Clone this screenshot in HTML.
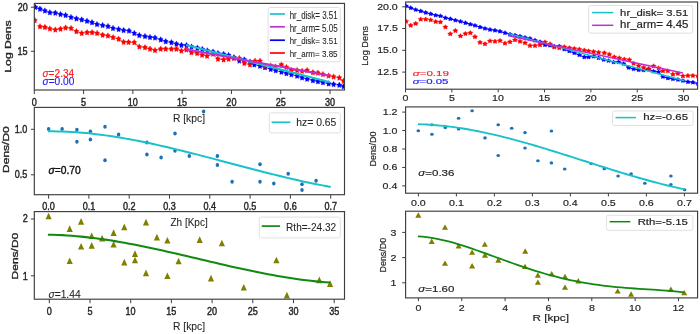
<!DOCTYPE html>
<html><head><meta charset="utf-8"><style>
html,body{margin:0;padding:0;background:#fff;width:700px;height:334px;overflow:hidden}
svg{display:block;will-change:transform}
text{font-family:"Liberation Sans",sans-serif}
</style></head><body>
<svg width="700" height="334" viewBox="0 0 700 334">
<rect width="700" height="334" fill="#fff"/>
<g>
<defs><clipPath id="cL1"><rect x="34.3" y="3" width="310.2" height="86.6"/></clipPath><clipPath id="cR1"><rect x="405.6" y="2" width="292" height="87.2"/></clipPath></defs>
<g clip-path="url(#cL1)">
<polyline points="35.40,7.30 40.00,9.00 44.90,10.80 49.90,12.60 55.30,13.00 60.50,14.40 65.60,15.30 71.00,17.30 76.40,18.70 81.70,19.70 87.00,21.10 92.00,22.50 97.00,24.40 102.60,25.40 108.00,26.40 113.00,28.30 118.60,29.30 123.60,30.40 129.00,30.90 134.30,33.30 139.30,35.40 145.00,36.40 150.00,37.30 155.00,37.80 160.70,39.70 165.70,41.50 171.40,42.50 176.40,44.00 181.40,45.20 186.50,45.40 191.50,46.80 197.30,48.00 202.30,49.30 207.30,50.70 213.00,51.90 218.00,53.40 223.60,54.20 228.60,55.40 234.00,57.50 239.30,60.90 244.30,59.70 250.00,61.90 254.30,64.70 260.00,66.10 265.00,67.50 270.70,69.20 275.70,70.60 281.40,72.00 286.40,73.50 291.40,74.60 297.10,76.00 302.10,77.70 307.10,79.10 312.90,80.50 317.90,81.50 322.90,82.50 328.60,83.70 333.60,84.40 339.30,85.10 343.60,86.50" fill="none" stroke="#0000ff" stroke-width="0.7" stroke-linejoin="round" stroke-linecap="butt"/>
<polyline points="40.00,26.60 44.90,27.20 49.90,28.80 55.30,29.80 60.50,29.00 65.60,27.80 71.10,28.30 76.40,31.50 81.70,33.30 87.10,32.50 92.10,32.50 97.10,33.30 102.60,35.00 107.90,35.80 113.10,37.50 118.60,39.00 123.60,42.10 128.60,42.20 134.30,42.50 139.30,46.80 145.00,47.50 150.00,49.00 155.00,50.40 160.70,49.00 165.70,49.00 171.40,49.00 176.40,49.00 181.40,50.90 186.40,49.70 191.40,52.50 197.10,53.30 202.10,55.00 207.10,56.10 212.90,54.00 217.90,59.00 223.60,59.70 228.60,59.00 234.00,58.30 239.30,58.30 244.30,63.30 250.00,64.70 255.00,61.10 260.00,61.10 265.00,66.10 270.70,65.80 275.70,66.80 281.40,64.70 286.40,67.30 291.40,70.40 297.10,70.40 302.10,71.10 307.10,70.40 312.90,72.50 317.90,73.00 322.90,74.40 328.60,75.80 333.60,76.80 339.30,77.80 343.60,81.10" fill="none" stroke="#ff0000" stroke-width="0.7" stroke-linejoin="round" stroke-linecap="butt"/>
<path d="M35.40,4.25 L36.24,5.92 L37.84,6.36 L36.76,7.83 L36.91,9.77 L35.40,9.01 L33.89,9.77 L34.04,7.83 L32.96,6.36 L34.56,5.92ZM40.00,5.95 L40.84,7.62 L42.44,8.06 L41.36,9.53 L41.51,11.47 L40.00,10.71 L38.49,11.47 L38.64,9.53 L37.56,8.06 L39.16,7.62ZM44.90,7.75 L45.74,9.42 L47.34,9.86 L46.26,11.33 L46.41,13.27 L44.90,12.51 L43.39,13.27 L43.54,11.33 L42.46,9.86 L44.06,9.42ZM49.90,9.55 L50.74,11.22 L52.34,11.66 L51.26,13.13 L51.41,15.07 L49.90,14.31 L48.39,15.07 L48.54,13.13 L47.46,11.66 L49.06,11.22ZM55.30,9.95 L56.14,11.62 L57.74,12.06 L56.66,13.53 L56.81,15.47 L55.30,14.71 L53.79,15.47 L53.94,13.53 L52.86,12.06 L54.46,11.62ZM60.50,11.35 L61.34,13.02 L62.94,13.46 L61.86,14.93 L62.01,16.87 L60.50,16.11 L58.99,16.87 L59.14,14.93 L58.06,13.46 L59.66,13.02ZM65.60,12.25 L66.44,13.92 L68.04,14.36 L66.96,15.83 L67.11,17.77 L65.60,17.01 L64.09,17.77 L64.24,15.83 L63.16,14.36 L64.76,13.92ZM71.00,14.25 L71.84,15.92 L73.44,16.36 L72.36,17.83 L72.51,19.77 L71.00,19.01 L69.49,19.77 L69.64,17.83 L68.56,16.36 L70.16,15.92ZM76.40,15.65 L77.24,17.32 L78.84,17.76 L77.76,19.23 L77.91,21.17 L76.40,20.41 L74.89,21.17 L75.04,19.23 L73.96,17.76 L75.56,17.32ZM81.70,16.65 L82.54,18.32 L84.14,18.76 L83.06,20.23 L83.21,22.17 L81.70,21.41 L80.19,22.17 L80.34,20.23 L79.26,18.76 L80.86,18.32ZM87.00,18.05 L87.84,19.72 L89.44,20.16 L88.36,21.63 L88.51,23.57 L87.00,22.81 L85.49,23.57 L85.64,21.63 L84.56,20.16 L86.16,19.72ZM92.00,19.45 L92.84,21.12 L94.44,21.56 L93.36,23.03 L93.51,24.97 L92.00,24.21 L90.49,24.97 L90.64,23.03 L89.56,21.56 L91.16,21.12ZM97.00,21.35 L97.84,23.02 L99.44,23.46 L98.36,24.93 L98.51,26.87 L97.00,26.11 L95.49,26.87 L95.64,24.93 L94.56,23.46 L96.16,23.02ZM102.60,22.35 L103.44,24.02 L105.04,24.46 L103.96,25.93 L104.11,27.87 L102.60,27.11 L101.09,27.87 L101.24,25.93 L100.16,24.46 L101.76,24.02ZM108.00,23.35 L108.84,25.02 L110.44,25.46 L109.36,26.93 L109.51,28.87 L108.00,28.11 L106.49,28.87 L106.64,26.93 L105.56,25.46 L107.16,25.02ZM113.00,25.25 L113.84,26.92 L115.44,27.36 L114.36,28.83 L114.51,30.77 L113.00,30.01 L111.49,30.77 L111.64,28.83 L110.56,27.36 L112.16,26.92ZM118.60,26.25 L119.44,27.92 L121.04,28.36 L119.96,29.83 L120.11,31.77 L118.60,31.01 L117.09,31.77 L117.24,29.83 L116.16,28.36 L117.76,27.92ZM123.60,27.35 L124.44,29.02 L126.04,29.46 L124.96,30.93 L125.11,32.87 L123.60,32.11 L122.09,32.87 L122.24,30.93 L121.16,29.46 L122.76,29.02ZM129.00,27.85 L129.84,29.52 L131.44,29.96 L130.36,31.43 L130.51,33.37 L129.00,32.61 L127.49,33.37 L127.64,31.43 L126.56,29.96 L128.16,29.52ZM134.30,30.25 L135.14,31.92 L136.74,32.36 L135.66,33.83 L135.81,35.77 L134.30,35.01 L132.79,35.77 L132.94,33.83 L131.86,32.36 L133.46,31.92ZM139.30,32.35 L140.14,34.02 L141.74,34.46 L140.66,35.93 L140.81,37.87 L139.30,37.11 L137.79,37.87 L137.94,35.93 L136.86,34.46 L138.46,34.02ZM145.00,33.35 L145.84,35.02 L147.44,35.46 L146.36,36.93 L146.51,38.87 L145.00,38.11 L143.49,38.87 L143.64,36.93 L142.56,35.46 L144.16,35.02ZM150.00,34.25 L150.84,35.92 L152.44,36.36 L151.36,37.83 L151.51,39.77 L150.00,39.01 L148.49,39.77 L148.64,37.83 L147.56,36.36 L149.16,35.92ZM155.00,34.75 L155.84,36.42 L157.44,36.86 L156.36,38.33 L156.51,40.27 L155.00,39.51 L153.49,40.27 L153.64,38.33 L152.56,36.86 L154.16,36.42ZM160.70,36.65 L161.54,38.32 L163.14,38.76 L162.06,40.23 L162.21,42.17 L160.70,41.41 L159.19,42.17 L159.34,40.23 L158.26,38.76 L159.86,38.32ZM165.70,38.45 L166.54,40.12 L168.14,40.56 L167.06,42.03 L167.21,43.97 L165.70,43.21 L164.19,43.97 L164.34,42.03 L163.26,40.56 L164.86,40.12ZM171.40,39.45 L172.24,41.12 L173.84,41.56 L172.76,43.03 L172.91,44.97 L171.40,44.21 L169.89,44.97 L170.04,43.03 L168.96,41.56 L170.56,41.12ZM176.40,40.95 L177.24,42.62 L178.84,43.06 L177.76,44.53 L177.91,46.47 L176.40,45.71 L174.89,46.47 L175.04,44.53 L173.96,43.06 L175.56,42.62ZM181.40,42.15 L182.24,43.82 L183.84,44.26 L182.76,45.73 L182.91,47.67 L181.40,46.91 L179.89,47.67 L180.04,45.73 L178.96,44.26 L180.56,43.82ZM186.50,42.35 L187.34,44.02 L188.94,44.46 L187.86,45.93 L188.01,47.87 L186.50,47.11 L184.99,47.87 L185.14,45.93 L184.06,44.46 L185.66,44.02ZM191.50,43.75 L192.34,45.42 L193.94,45.86 L192.86,47.33 L193.01,49.27 L191.50,48.51 L189.99,49.27 L190.14,47.33 L189.06,45.86 L190.66,45.42ZM197.30,44.95 L198.14,46.62 L199.74,47.06 L198.66,48.53 L198.81,50.47 L197.30,49.71 L195.79,50.47 L195.94,48.53 L194.86,47.06 L196.46,46.62ZM202.30,46.25 L203.14,47.92 L204.74,48.36 L203.66,49.83 L203.81,51.77 L202.30,51.01 L200.79,51.77 L200.94,49.83 L199.86,48.36 L201.46,47.92ZM207.30,47.65 L208.14,49.32 L209.74,49.76 L208.66,51.23 L208.81,53.17 L207.30,52.41 L205.79,53.17 L205.94,51.23 L204.86,49.76 L206.46,49.32ZM213.00,48.85 L213.84,50.52 L215.44,50.96 L214.36,52.43 L214.51,54.37 L213.00,53.61 L211.49,54.37 L211.64,52.43 L210.56,50.96 L212.16,50.52ZM218.00,50.35 L218.84,52.02 L220.44,52.46 L219.36,53.93 L219.51,55.87 L218.00,55.11 L216.49,55.87 L216.64,53.93 L215.56,52.46 L217.16,52.02ZM223.60,51.15 L224.44,52.82 L226.04,53.26 L224.96,54.73 L225.11,56.67 L223.60,55.91 L222.09,56.67 L222.24,54.73 L221.16,53.26 L222.76,52.82ZM228.60,52.35 L229.44,54.02 L231.04,54.46 L229.96,55.93 L230.11,57.87 L228.60,57.11 L227.09,57.87 L227.24,55.93 L226.16,54.46 L227.76,54.02ZM234.00,54.45 L234.84,56.12 L236.44,56.56 L235.36,58.03 L235.51,59.97 L234.00,59.21 L232.49,59.97 L232.64,58.03 L231.56,56.56 L233.16,56.12ZM239.30,57.85 L240.14,59.52 L241.74,59.96 L240.66,61.43 L240.81,63.37 L239.30,62.61 L237.79,63.37 L237.94,61.43 L236.86,59.96 L238.46,59.52ZM244.30,56.65 L245.14,58.32 L246.74,58.76 L245.66,60.23 L245.81,62.17 L244.30,61.41 L242.79,62.17 L242.94,60.23 L241.86,58.76 L243.46,58.32ZM250.00,58.85 L250.84,60.52 L252.44,60.96 L251.36,62.43 L251.51,64.37 L250.00,63.61 L248.49,64.37 L248.64,62.43 L247.56,60.96 L249.16,60.52ZM254.30,61.65 L255.14,63.32 L256.74,63.76 L255.66,65.23 L255.81,67.17 L254.30,66.41 L252.79,67.17 L252.94,65.23 L251.86,63.76 L253.46,63.32ZM260.00,63.05 L260.84,64.72 L262.44,65.16 L261.36,66.63 L261.51,68.57 L260.00,67.81 L258.49,68.57 L258.64,66.63 L257.56,65.16 L259.16,64.72ZM265.00,64.45 L265.84,66.12 L267.44,66.56 L266.36,68.03 L266.51,69.97 L265.00,69.21 L263.49,69.97 L263.64,68.03 L262.56,66.56 L264.16,66.12ZM270.70,66.15 L271.54,67.82 L273.14,68.26 L272.06,69.73 L272.21,71.67 L270.70,70.91 L269.19,71.67 L269.34,69.73 L268.26,68.26 L269.86,67.82ZM275.70,67.55 L276.54,69.22 L278.14,69.66 L277.06,71.13 L277.21,73.07 L275.70,72.31 L274.19,73.07 L274.34,71.13 L273.26,69.66 L274.86,69.22ZM281.40,68.95 L282.24,70.62 L283.84,71.06 L282.76,72.53 L282.91,74.47 L281.40,73.71 L279.89,74.47 L280.04,72.53 L278.96,71.06 L280.56,70.62ZM286.40,70.45 L287.24,72.12 L288.84,72.56 L287.76,74.03 L287.91,75.97 L286.40,75.21 L284.89,75.97 L285.04,74.03 L283.96,72.56 L285.56,72.12ZM291.40,71.55 L292.24,73.22 L293.84,73.66 L292.76,75.13 L292.91,77.07 L291.40,76.31 L289.89,77.07 L290.04,75.13 L288.96,73.66 L290.56,73.22ZM297.10,72.95 L297.94,74.62 L299.54,75.06 L298.46,76.53 L298.61,78.47 L297.10,77.71 L295.59,78.47 L295.74,76.53 L294.66,75.06 L296.26,74.62ZM302.10,74.65 L302.94,76.32 L304.54,76.76 L303.46,78.23 L303.61,80.17 L302.10,79.41 L300.59,80.17 L300.74,78.23 L299.66,76.76 L301.26,76.32ZM307.10,76.05 L307.94,77.72 L309.54,78.16 L308.46,79.63 L308.61,81.57 L307.10,80.81 L305.59,81.57 L305.74,79.63 L304.66,78.16 L306.26,77.72ZM312.90,77.45 L313.74,79.12 L315.34,79.56 L314.26,81.03 L314.41,82.97 L312.90,82.21 L311.39,82.97 L311.54,81.03 L310.46,79.56 L312.06,79.12ZM317.90,78.45 L318.74,80.12 L320.34,80.56 L319.26,82.03 L319.41,83.97 L317.90,83.21 L316.39,83.97 L316.54,82.03 L315.46,80.56 L317.06,80.12ZM322.90,79.45 L323.74,81.12 L325.34,81.56 L324.26,83.03 L324.41,84.97 L322.90,84.21 L321.39,84.97 L321.54,83.03 L320.46,81.56 L322.06,81.12ZM328.60,80.65 L329.44,82.32 L331.04,82.76 L329.96,84.23 L330.11,86.17 L328.60,85.41 L327.09,86.17 L327.24,84.23 L326.16,82.76 L327.76,82.32ZM333.60,81.35 L334.44,83.02 L336.04,83.46 L334.96,84.93 L335.11,86.87 L333.60,86.11 L332.09,86.87 L332.24,84.93 L331.16,83.46 L332.76,83.02ZM339.30,82.05 L340.14,83.72 L341.74,84.16 L340.66,85.63 L340.81,87.57 L339.30,86.81 L337.79,87.57 L337.94,85.63 L336.86,84.16 L338.46,83.72ZM343.60,83.45 L344.44,85.12 L346.04,85.56 L344.96,87.03 L345.11,88.97 L343.60,88.21 L342.09,88.97 L342.24,87.03 L341.16,85.56 L342.76,85.12Z" fill="#0000ff" stroke="#0000ff" stroke-width="0.4" stroke-linejoin="round"/>
<path d="M34.80,17.35 L35.64,19.02 L37.24,19.46 L36.16,20.93 L36.31,22.87 L34.80,22.11 L33.29,22.87 L33.44,20.93 L32.36,19.46 L33.96,19.02ZM40.00,23.55 L40.84,25.22 L42.44,25.66 L41.36,27.13 L41.51,29.07 L40.00,28.31 L38.49,29.07 L38.64,27.13 L37.56,25.66 L39.16,25.22ZM44.90,24.15 L45.74,25.82 L47.34,26.26 L46.26,27.73 L46.41,29.67 L44.90,28.91 L43.39,29.67 L43.54,27.73 L42.46,26.26 L44.06,25.82ZM49.90,25.75 L50.74,27.42 L52.34,27.86 L51.26,29.33 L51.41,31.27 L49.90,30.51 L48.39,31.27 L48.54,29.33 L47.46,27.86 L49.06,27.42ZM55.30,26.75 L56.14,28.42 L57.74,28.86 L56.66,30.33 L56.81,32.27 L55.30,31.51 L53.79,32.27 L53.94,30.33 L52.86,28.86 L54.46,28.42ZM60.50,25.95 L61.34,27.62 L62.94,28.06 L61.86,29.53 L62.01,31.47 L60.50,30.71 L58.99,31.47 L59.14,29.53 L58.06,28.06 L59.66,27.62ZM65.60,24.75 L66.44,26.42 L68.04,26.86 L66.96,28.33 L67.11,30.27 L65.60,29.51 L64.09,30.27 L64.24,28.33 L63.16,26.86 L64.76,26.42ZM71.10,25.25 L71.94,26.92 L73.54,27.36 L72.46,28.83 L72.61,30.77 L71.10,30.01 L69.59,30.77 L69.74,28.83 L68.66,27.36 L70.26,26.92ZM76.40,28.45 L77.24,30.12 L78.84,30.56 L77.76,32.03 L77.91,33.97 L76.40,33.21 L74.89,33.97 L75.04,32.03 L73.96,30.56 L75.56,30.12ZM81.70,30.25 L82.54,31.92 L84.14,32.36 L83.06,33.83 L83.21,35.77 L81.70,35.01 L80.19,35.77 L80.34,33.83 L79.26,32.36 L80.86,31.92ZM87.10,29.45 L87.94,31.12 L89.54,31.56 L88.46,33.03 L88.61,34.97 L87.10,34.21 L85.59,34.97 L85.74,33.03 L84.66,31.56 L86.26,31.12ZM92.10,29.45 L92.94,31.12 L94.54,31.56 L93.46,33.03 L93.61,34.97 L92.10,34.21 L90.59,34.97 L90.74,33.03 L89.66,31.56 L91.26,31.12ZM97.10,30.25 L97.94,31.92 L99.54,32.36 L98.46,33.83 L98.61,35.77 L97.10,35.01 L95.59,35.77 L95.74,33.83 L94.66,32.36 L96.26,31.92ZM102.60,31.95 L103.44,33.62 L105.04,34.06 L103.96,35.53 L104.11,37.47 L102.60,36.71 L101.09,37.47 L101.24,35.53 L100.16,34.06 L101.76,33.62ZM107.90,32.75 L108.74,34.42 L110.34,34.86 L109.26,36.33 L109.41,38.27 L107.90,37.51 L106.39,38.27 L106.54,36.33 L105.46,34.86 L107.06,34.42ZM113.10,34.45 L113.94,36.12 L115.54,36.56 L114.46,38.03 L114.61,39.97 L113.10,39.21 L111.59,39.97 L111.74,38.03 L110.66,36.56 L112.26,36.12ZM118.60,35.95 L119.44,37.62 L121.04,38.06 L119.96,39.53 L120.11,41.47 L118.60,40.71 L117.09,41.47 L117.24,39.53 L116.16,38.06 L117.76,37.62ZM123.60,39.05 L124.44,40.72 L126.04,41.16 L124.96,42.63 L125.11,44.57 L123.60,43.81 L122.09,44.57 L122.24,42.63 L121.16,41.16 L122.76,40.72ZM128.60,39.15 L129.44,40.82 L131.04,41.26 L129.96,42.73 L130.11,44.67 L128.60,43.91 L127.09,44.67 L127.24,42.73 L126.16,41.26 L127.76,40.82ZM134.30,39.45 L135.14,41.12 L136.74,41.56 L135.66,43.03 L135.81,44.97 L134.30,44.21 L132.79,44.97 L132.94,43.03 L131.86,41.56 L133.46,41.12ZM139.30,43.75 L140.14,45.42 L141.74,45.86 L140.66,47.33 L140.81,49.27 L139.30,48.51 L137.79,49.27 L137.94,47.33 L136.86,45.86 L138.46,45.42ZM145.00,44.45 L145.84,46.12 L147.44,46.56 L146.36,48.03 L146.51,49.97 L145.00,49.21 L143.49,49.97 L143.64,48.03 L142.56,46.56 L144.16,46.12ZM150.00,45.95 L150.84,47.62 L152.44,48.06 L151.36,49.53 L151.51,51.47 L150.00,50.71 L148.49,51.47 L148.64,49.53 L147.56,48.06 L149.16,47.62ZM155.00,47.35 L155.84,49.02 L157.44,49.46 L156.36,50.93 L156.51,52.87 L155.00,52.11 L153.49,52.87 L153.64,50.93 L152.56,49.46 L154.16,49.02ZM160.70,45.95 L161.54,47.62 L163.14,48.06 L162.06,49.53 L162.21,51.47 L160.70,50.71 L159.19,51.47 L159.34,49.53 L158.26,48.06 L159.86,47.62ZM165.70,45.95 L166.54,47.62 L168.14,48.06 L167.06,49.53 L167.21,51.47 L165.70,50.71 L164.19,51.47 L164.34,49.53 L163.26,48.06 L164.86,47.62ZM171.40,45.95 L172.24,47.62 L173.84,48.06 L172.76,49.53 L172.91,51.47 L171.40,50.71 L169.89,51.47 L170.04,49.53 L168.96,48.06 L170.56,47.62ZM176.40,45.95 L177.24,47.62 L178.84,48.06 L177.76,49.53 L177.91,51.47 L176.40,50.71 L174.89,51.47 L175.04,49.53 L173.96,48.06 L175.56,47.62ZM181.40,47.85 L182.24,49.52 L183.84,49.96 L182.76,51.43 L182.91,53.37 L181.40,52.61 L179.89,53.37 L180.04,51.43 L178.96,49.96 L180.56,49.52ZM186.40,46.65 L187.24,48.32 L188.84,48.76 L187.76,50.23 L187.91,52.17 L186.40,51.41 L184.89,52.17 L185.04,50.23 L183.96,48.76 L185.56,48.32ZM191.40,49.45 L192.24,51.12 L193.84,51.56 L192.76,53.03 L192.91,54.97 L191.40,54.21 L189.89,54.97 L190.04,53.03 L188.96,51.56 L190.56,51.12ZM197.10,50.25 L197.94,51.92 L199.54,52.36 L198.46,53.83 L198.61,55.77 L197.10,55.01 L195.59,55.77 L195.74,53.83 L194.66,52.36 L196.26,51.92ZM202.10,51.95 L202.94,53.62 L204.54,54.06 L203.46,55.53 L203.61,57.47 L202.10,56.71 L200.59,57.47 L200.74,55.53 L199.66,54.06 L201.26,53.62ZM207.10,53.05 L207.94,54.72 L209.54,55.16 L208.46,56.63 L208.61,58.57 L207.10,57.81 L205.59,58.57 L205.74,56.63 L204.66,55.16 L206.26,54.72ZM212.90,50.95 L213.74,52.62 L215.34,53.06 L214.26,54.53 L214.41,56.47 L212.90,55.71 L211.39,56.47 L211.54,54.53 L210.46,53.06 L212.06,52.62ZM217.90,55.95 L218.74,57.62 L220.34,58.06 L219.26,59.53 L219.41,61.47 L217.90,60.71 L216.39,61.47 L216.54,59.53 L215.46,58.06 L217.06,57.62ZM223.60,56.65 L224.44,58.32 L226.04,58.76 L224.96,60.23 L225.11,62.17 L223.60,61.41 L222.09,62.17 L222.24,60.23 L221.16,58.76 L222.76,58.32ZM228.60,55.95 L229.44,57.62 L231.04,58.06 L229.96,59.53 L230.11,61.47 L228.60,60.71 L227.09,61.47 L227.24,59.53 L226.16,58.06 L227.76,57.62ZM234.00,55.25 L234.84,56.92 L236.44,57.36 L235.36,58.83 L235.51,60.77 L234.00,60.01 L232.49,60.77 L232.64,58.83 L231.56,57.36 L233.16,56.92ZM239.30,55.25 L240.14,56.92 L241.74,57.36 L240.66,58.83 L240.81,60.77 L239.30,60.01 L237.79,60.77 L237.94,58.83 L236.86,57.36 L238.46,56.92ZM244.30,60.25 L245.14,61.92 L246.74,62.36 L245.66,63.83 L245.81,65.77 L244.30,65.01 L242.79,65.77 L242.94,63.83 L241.86,62.36 L243.46,61.92ZM250.00,61.65 L250.84,63.32 L252.44,63.76 L251.36,65.23 L251.51,67.17 L250.00,66.41 L248.49,67.17 L248.64,65.23 L247.56,63.76 L249.16,63.32ZM255.00,58.05 L255.84,59.72 L257.44,60.16 L256.36,61.63 L256.51,63.57 L255.00,62.81 L253.49,63.57 L253.64,61.63 L252.56,60.16 L254.16,59.72ZM260.00,58.05 L260.84,59.72 L262.44,60.16 L261.36,61.63 L261.51,63.57 L260.00,62.81 L258.49,63.57 L258.64,61.63 L257.56,60.16 L259.16,59.72ZM265.00,63.05 L265.84,64.72 L267.44,65.16 L266.36,66.63 L266.51,68.57 L265.00,67.81 L263.49,68.57 L263.64,66.63 L262.56,65.16 L264.16,64.72ZM270.70,62.75 L271.54,64.42 L273.14,64.86 L272.06,66.33 L272.21,68.27 L270.70,67.51 L269.19,68.27 L269.34,66.33 L268.26,64.86 L269.86,64.42ZM275.70,63.75 L276.54,65.42 L278.14,65.86 L277.06,67.33 L277.21,69.27 L275.70,68.51 L274.19,69.27 L274.34,67.33 L273.26,65.86 L274.86,65.42ZM281.40,61.65 L282.24,63.32 L283.84,63.76 L282.76,65.23 L282.91,67.17 L281.40,66.41 L279.89,67.17 L280.04,65.23 L278.96,63.76 L280.56,63.32ZM286.40,64.25 L287.24,65.92 L288.84,66.36 L287.76,67.83 L287.91,69.77 L286.40,69.01 L284.89,69.77 L285.04,67.83 L283.96,66.36 L285.56,65.92ZM291.40,67.35 L292.24,69.02 L293.84,69.46 L292.76,70.93 L292.91,72.87 L291.40,72.11 L289.89,72.87 L290.04,70.93 L288.96,69.46 L290.56,69.02ZM297.10,67.35 L297.94,69.02 L299.54,69.46 L298.46,70.93 L298.61,72.87 L297.10,72.11 L295.59,72.87 L295.74,70.93 L294.66,69.46 L296.26,69.02ZM302.10,68.05 L302.94,69.72 L304.54,70.16 L303.46,71.63 L303.61,73.57 L302.10,72.81 L300.59,73.57 L300.74,71.63 L299.66,70.16 L301.26,69.72ZM307.10,67.35 L307.94,69.02 L309.54,69.46 L308.46,70.93 L308.61,72.87 L307.10,72.11 L305.59,72.87 L305.74,70.93 L304.66,69.46 L306.26,69.02ZM312.90,69.45 L313.74,71.12 L315.34,71.56 L314.26,73.03 L314.41,74.97 L312.90,74.21 L311.39,74.97 L311.54,73.03 L310.46,71.56 L312.06,71.12ZM317.90,69.95 L318.74,71.62 L320.34,72.06 L319.26,73.53 L319.41,75.47 L317.90,74.71 L316.39,75.47 L316.54,73.53 L315.46,72.06 L317.06,71.62ZM322.90,71.35 L323.74,73.02 L325.34,73.46 L324.26,74.93 L324.41,76.87 L322.90,76.11 L321.39,76.87 L321.54,74.93 L320.46,73.46 L322.06,73.02ZM328.60,72.75 L329.44,74.42 L331.04,74.86 L329.96,76.33 L330.11,78.27 L328.60,77.51 L327.09,78.27 L327.24,76.33 L326.16,74.86 L327.76,74.42ZM333.60,73.75 L334.44,75.42 L336.04,75.86 L334.96,77.33 L335.11,79.27 L333.60,78.51 L332.09,79.27 L332.24,77.33 L331.16,75.86 L332.76,75.42ZM339.30,74.75 L340.14,76.42 L341.74,76.86 L340.66,78.33 L340.81,80.27 L339.30,79.51 L337.79,80.27 L337.94,78.33 L336.86,76.86 L338.46,76.42ZM343.60,78.05 L344.44,79.72 L346.04,80.16 L344.96,81.63 L345.11,83.57 L343.60,82.81 L342.09,83.57 L342.24,81.63 L341.16,80.16 L342.76,79.72Z" fill="#ff0000" stroke="#ff0000" stroke-width="0.4" stroke-linejoin="round"/>
<line x1="186.00" y1="45.00" x2="330.00" y2="82.30" stroke="#18c2c8" stroke-width="2.0"/>
<line x1="186.00" y1="49.30" x2="329.50" y2="75.70" stroke="#c030d0" stroke-width="2.0"/>
</g>
<g clip-path="url(#cR1)">
<polyline points="406.00,6.00 410.70,7.90 415.70,9.70 420.70,11.10 425.70,12.60 430.70,13.90 435.70,15.30 440.40,16.00 445.40,17.90 450.30,18.90 455.40,20.30 460.50,21.50 465.40,22.90 470.30,24.30 475.00,25.50 480.00,27.10 485.00,28.50 490.00,29.60 495.00,30.40 500.00,31.40 505.00,32.90 510.00,34.30 515.00,35.30 520.00,36.40 525.00,37.60 530.00,38.60 535.00,40.40 540.00,41.90 545.00,45.00 550.00,45.40 554.30,46.40 559.30,46.20 564.30,49.30 569.30,51.10 574.30,52.90 579.30,55.00 584.30,57.10 588.60,57.10 593.60,56.40 598.60,57.90 603.60,59.60 608.60,60.70 613.60,62.20 618.60,62.10 623.60,63.70 628.60,67.60 633.60,69.00 638.60,70.00 643.60,70.20 648.60,69.00 653.60,71.40 658.60,72.10 662.90,76.70 667.90,78.10 672.90,79.00 677.90,79.60 682.90,80.70 687.90,81.90 692.90,82.40 697.90,83.60" fill="none" stroke="#0000ff" stroke-width="1.0" stroke-linejoin="round" stroke-linecap="butt"/>
<path d="M406.00,3.70 L406.85,4.96 L408.45,5.29 L407.37,6.40 L407.51,7.86 L406.00,7.29 L404.49,7.86 L404.63,6.40 L403.55,5.29 L405.15,4.96ZM410.70,5.60 L411.55,6.86 L413.15,7.19 L412.07,8.30 L412.21,9.76 L410.70,9.19 L409.19,9.76 L409.33,8.30 L408.25,7.19 L409.85,6.86ZM415.70,7.40 L416.55,8.66 L418.15,8.99 L417.07,10.10 L417.21,11.56 L415.70,10.99 L414.19,11.56 L414.33,10.10 L413.25,8.99 L414.85,8.66ZM420.70,8.80 L421.55,10.06 L423.15,10.39 L422.07,11.50 L422.21,12.96 L420.70,12.39 L419.19,12.96 L419.33,11.50 L418.25,10.39 L419.85,10.06ZM425.70,10.30 L426.55,11.56 L428.15,11.89 L427.07,13.00 L427.21,14.46 L425.70,13.89 L424.19,14.46 L424.33,13.00 L423.25,11.89 L424.85,11.56ZM430.70,11.60 L431.55,12.86 L433.15,13.19 L432.07,14.30 L432.21,15.76 L430.70,15.19 L429.19,15.76 L429.33,14.30 L428.25,13.19 L429.85,12.86ZM435.70,13.00 L436.55,14.26 L438.15,14.59 L437.07,15.70 L437.21,17.16 L435.70,16.59 L434.19,17.16 L434.33,15.70 L433.25,14.59 L434.85,14.26ZM440.40,13.70 L441.25,14.96 L442.85,15.29 L441.77,16.40 L441.91,17.86 L440.40,17.29 L438.89,17.86 L439.03,16.40 L437.95,15.29 L439.55,14.96ZM445.40,15.60 L446.25,16.86 L447.85,17.19 L446.77,18.30 L446.91,19.76 L445.40,19.19 L443.89,19.76 L444.03,18.30 L442.95,17.19 L444.55,16.86ZM450.30,16.60 L451.15,17.86 L452.75,18.19 L451.67,19.30 L451.81,20.76 L450.30,20.19 L448.79,20.76 L448.93,19.30 L447.85,18.19 L449.45,17.86ZM455.40,18.00 L456.25,19.26 L457.85,19.59 L456.77,20.70 L456.91,22.16 L455.40,21.59 L453.89,22.16 L454.03,20.70 L452.95,19.59 L454.55,19.26ZM460.50,19.20 L461.35,20.46 L462.95,20.79 L461.87,21.90 L462.01,23.36 L460.50,22.79 L458.99,23.36 L459.13,21.90 L458.05,20.79 L459.65,20.46ZM465.40,20.60 L466.25,21.86 L467.85,22.19 L466.77,23.30 L466.91,24.76 L465.40,24.19 L463.89,24.76 L464.03,23.30 L462.95,22.19 L464.55,21.86ZM470.30,22.00 L471.15,23.26 L472.75,23.59 L471.67,24.70 L471.81,26.16 L470.30,25.59 L468.79,26.16 L468.93,24.70 L467.85,23.59 L469.45,23.26ZM475.00,23.20 L475.85,24.46 L477.45,24.79 L476.37,25.90 L476.51,27.36 L475.00,26.79 L473.49,27.36 L473.63,25.90 L472.55,24.79 L474.15,24.46ZM480.00,24.80 L480.85,26.06 L482.45,26.39 L481.37,27.50 L481.51,28.96 L480.00,28.39 L478.49,28.96 L478.63,27.50 L477.55,26.39 L479.15,26.06ZM485.00,26.20 L485.85,27.46 L487.45,27.79 L486.37,28.90 L486.51,30.36 L485.00,29.79 L483.49,30.36 L483.63,28.90 L482.55,27.79 L484.15,27.46ZM490.00,27.30 L490.85,28.56 L492.45,28.89 L491.37,30.00 L491.51,31.46 L490.00,30.89 L488.49,31.46 L488.63,30.00 L487.55,28.89 L489.15,28.56ZM495.00,28.10 L495.85,29.36 L497.45,29.69 L496.37,30.80 L496.51,32.26 L495.00,31.69 L493.49,32.26 L493.63,30.80 L492.55,29.69 L494.15,29.36ZM500.00,29.10 L500.85,30.36 L502.45,30.69 L501.37,31.80 L501.51,33.26 L500.00,32.69 L498.49,33.26 L498.63,31.80 L497.55,30.69 L499.15,30.36ZM505.00,30.60 L505.85,31.86 L507.45,32.19 L506.37,33.30 L506.51,34.76 L505.00,34.19 L503.49,34.76 L503.63,33.30 L502.55,32.19 L504.15,31.86ZM510.00,32.00 L510.85,33.26 L512.45,33.59 L511.37,34.70 L511.51,36.16 L510.00,35.59 L508.49,36.16 L508.63,34.70 L507.55,33.59 L509.15,33.26ZM515.00,33.00 L515.85,34.26 L517.45,34.59 L516.37,35.70 L516.51,37.16 L515.00,36.59 L513.49,37.16 L513.63,35.70 L512.55,34.59 L514.15,34.26ZM520.00,34.10 L520.85,35.36 L522.45,35.69 L521.37,36.80 L521.51,38.26 L520.00,37.69 L518.49,38.26 L518.63,36.80 L517.55,35.69 L519.15,35.36ZM525.00,35.30 L525.85,36.56 L527.45,36.89 L526.37,38.00 L526.51,39.46 L525.00,38.89 L523.49,39.46 L523.63,38.00 L522.55,36.89 L524.15,36.56ZM530.00,36.30 L530.85,37.56 L532.45,37.89 L531.37,39.00 L531.51,40.46 L530.00,39.89 L528.49,40.46 L528.63,39.00 L527.55,37.89 L529.15,37.56ZM535.00,38.10 L535.85,39.36 L537.45,39.69 L536.37,40.80 L536.51,42.26 L535.00,41.69 L533.49,42.26 L533.63,40.80 L532.55,39.69 L534.15,39.36ZM540.00,39.60 L540.85,40.86 L542.45,41.19 L541.37,42.30 L541.51,43.76 L540.00,43.19 L538.49,43.76 L538.63,42.30 L537.55,41.19 L539.15,40.86ZM545.00,42.70 L545.85,43.96 L547.45,44.29 L546.37,45.40 L546.51,46.86 L545.00,46.29 L543.49,46.86 L543.63,45.40 L542.55,44.29 L544.15,43.96ZM550.00,43.10 L550.85,44.36 L552.45,44.69 L551.37,45.80 L551.51,47.26 L550.00,46.69 L548.49,47.26 L548.63,45.80 L547.55,44.69 L549.15,44.36ZM554.30,44.10 L555.15,45.36 L556.75,45.69 L555.67,46.80 L555.81,48.26 L554.30,47.69 L552.79,48.26 L552.93,46.80 L551.85,45.69 L553.45,45.36ZM559.30,43.90 L560.15,45.16 L561.75,45.49 L560.67,46.60 L560.81,48.06 L559.30,47.49 L557.79,48.06 L557.93,46.60 L556.85,45.49 L558.45,45.16ZM564.30,47.00 L565.15,48.26 L566.75,48.59 L565.67,49.70 L565.81,51.16 L564.30,50.59 L562.79,51.16 L562.93,49.70 L561.85,48.59 L563.45,48.26ZM569.30,48.80 L570.15,50.06 L571.75,50.39 L570.67,51.50 L570.81,52.96 L569.30,52.39 L567.79,52.96 L567.93,51.50 L566.85,50.39 L568.45,50.06ZM574.30,50.60 L575.15,51.86 L576.75,52.19 L575.67,53.30 L575.81,54.76 L574.30,54.19 L572.79,54.76 L572.93,53.30 L571.85,52.19 L573.45,51.86ZM579.30,52.70 L580.15,53.96 L581.75,54.29 L580.67,55.40 L580.81,56.86 L579.30,56.29 L577.79,56.86 L577.93,55.40 L576.85,54.29 L578.45,53.96ZM584.30,54.80 L585.15,56.06 L586.75,56.39 L585.67,57.50 L585.81,58.96 L584.30,58.39 L582.79,58.96 L582.93,57.50 L581.85,56.39 L583.45,56.06ZM588.60,54.80 L589.45,56.06 L591.05,56.39 L589.97,57.50 L590.11,58.96 L588.60,58.39 L587.09,58.96 L587.23,57.50 L586.15,56.39 L587.75,56.06ZM593.60,54.10 L594.45,55.36 L596.05,55.69 L594.97,56.80 L595.11,58.26 L593.60,57.69 L592.09,58.26 L592.23,56.80 L591.15,55.69 L592.75,55.36ZM598.60,55.60 L599.45,56.86 L601.05,57.19 L599.97,58.30 L600.11,59.76 L598.60,59.19 L597.09,59.76 L597.23,58.30 L596.15,57.19 L597.75,56.86ZM603.60,57.30 L604.45,58.56 L606.05,58.89 L604.97,60.00 L605.11,61.46 L603.60,60.89 L602.09,61.46 L602.23,60.00 L601.15,58.89 L602.75,58.56ZM608.60,58.40 L609.45,59.66 L611.05,59.99 L609.97,61.10 L610.11,62.56 L608.60,61.99 L607.09,62.56 L607.23,61.10 L606.15,59.99 L607.75,59.66ZM613.60,59.90 L614.45,61.16 L616.05,61.49 L614.97,62.60 L615.11,64.06 L613.60,63.49 L612.09,64.06 L612.23,62.60 L611.15,61.49 L612.75,61.16ZM618.60,59.80 L619.45,61.06 L621.05,61.39 L619.97,62.50 L620.11,63.96 L618.60,63.39 L617.09,63.96 L617.23,62.50 L616.15,61.39 L617.75,61.06ZM623.60,61.40 L624.45,62.66 L626.05,62.99 L624.97,64.10 L625.11,65.56 L623.60,64.99 L622.09,65.56 L622.23,64.10 L621.15,62.99 L622.75,62.66ZM628.60,65.30 L629.45,66.56 L631.05,66.89 L629.97,68.00 L630.11,69.46 L628.60,68.89 L627.09,69.46 L627.23,68.00 L626.15,66.89 L627.75,66.56ZM633.60,66.70 L634.45,67.96 L636.05,68.29 L634.97,69.40 L635.11,70.86 L633.60,70.29 L632.09,70.86 L632.23,69.40 L631.15,68.29 L632.75,67.96ZM638.60,67.70 L639.45,68.96 L641.05,69.29 L639.97,70.40 L640.11,71.86 L638.60,71.29 L637.09,71.86 L637.23,70.40 L636.15,69.29 L637.75,68.96ZM643.60,67.90 L644.45,69.16 L646.05,69.49 L644.97,70.60 L645.11,72.06 L643.60,71.49 L642.09,72.06 L642.23,70.60 L641.15,69.49 L642.75,69.16ZM648.60,66.70 L649.45,67.96 L651.05,68.29 L649.97,69.40 L650.11,70.86 L648.60,70.29 L647.09,70.86 L647.23,69.40 L646.15,68.29 L647.75,67.96ZM653.60,69.10 L654.45,70.36 L656.05,70.69 L654.97,71.80 L655.11,73.26 L653.60,72.69 L652.09,73.26 L652.23,71.80 L651.15,70.69 L652.75,70.36ZM658.60,69.80 L659.45,71.06 L661.05,71.39 L659.97,72.50 L660.11,73.96 L658.60,73.39 L657.09,73.96 L657.23,72.50 L656.15,71.39 L657.75,71.06ZM662.90,74.40 L663.75,75.66 L665.35,75.99 L664.27,77.10 L664.41,78.56 L662.90,77.99 L661.39,78.56 L661.53,77.10 L660.45,75.99 L662.05,75.66ZM667.90,75.80 L668.75,77.06 L670.35,77.39 L669.27,78.50 L669.41,79.96 L667.90,79.39 L666.39,79.96 L666.53,78.50 L665.45,77.39 L667.05,77.06ZM672.90,76.70 L673.75,77.96 L675.35,78.29 L674.27,79.40 L674.41,80.86 L672.90,80.29 L671.39,80.86 L671.53,79.40 L670.45,78.29 L672.05,77.96ZM677.90,77.30 L678.75,78.56 L680.35,78.89 L679.27,80.00 L679.41,81.46 L677.90,80.89 L676.39,81.46 L676.53,80.00 L675.45,78.89 L677.05,78.56ZM682.90,78.40 L683.75,79.66 L685.35,79.99 L684.27,81.10 L684.41,82.56 L682.90,81.99 L681.39,82.56 L681.53,81.10 L680.45,79.99 L682.05,79.66ZM687.90,79.60 L688.75,80.86 L690.35,81.19 L689.27,82.30 L689.41,83.76 L687.90,83.19 L686.39,83.76 L686.53,82.30 L685.45,81.19 L687.05,80.86ZM692.90,80.10 L693.75,81.36 L695.35,81.69 L694.27,82.80 L694.41,84.26 L692.90,83.69 L691.39,84.26 L691.53,82.80 L690.45,81.69 L692.05,81.36ZM697.90,81.30 L698.75,82.56 L700.35,82.89 L699.27,84.00 L699.41,85.46 L697.90,84.89 L696.39,85.46 L696.53,84.00 L695.45,82.89 L697.05,82.56Z" fill="#0000ff" stroke="#0000ff" stroke-width="0.4" stroke-linejoin="round"/>
<path d="M406.00,18.95 L406.90,20.29 L408.61,20.64 L407.46,21.82 L407.61,23.38 L406.00,22.77 L404.39,23.38 L404.54,21.82 L403.39,20.64 L405.10,20.29ZM410.70,22.95 L411.60,24.29 L413.31,24.64 L412.16,25.82 L412.31,27.38 L410.70,26.77 L409.09,27.38 L409.24,25.82 L408.09,24.64 L409.80,24.29ZM415.70,21.15 L416.60,22.49 L418.31,22.84 L417.16,24.02 L417.31,25.58 L415.70,24.97 L414.09,25.58 L414.24,24.02 L413.09,22.84 L414.80,22.49ZM420.70,16.85 L421.60,18.19 L423.31,18.54 L422.16,19.72 L422.31,21.28 L420.70,20.67 L419.09,21.28 L419.24,19.72 L418.09,18.54 L419.80,18.19ZM425.70,16.85 L426.60,18.19 L428.31,18.54 L427.16,19.72 L427.31,21.28 L425.70,20.67 L424.09,21.28 L424.24,19.72 L423.09,18.54 L424.80,18.19ZM430.70,17.55 L431.60,18.89 L433.31,19.24 L432.16,20.42 L432.31,21.98 L430.70,21.37 L429.09,21.98 L429.24,20.42 L428.09,19.24 L429.80,18.89ZM435.70,19.25 L436.60,20.59 L438.31,20.94 L437.16,22.12 L437.31,23.68 L435.70,23.07 L434.09,23.68 L434.24,22.12 L433.09,20.94 L434.80,20.59ZM440.40,19.65 L441.30,20.99 L443.01,21.34 L441.86,22.52 L442.01,24.08 L440.40,23.47 L438.79,24.08 L438.94,22.52 L437.79,21.34 L439.50,20.99ZM445.40,24.65 L446.30,25.99 L448.01,26.34 L446.86,27.52 L447.01,29.08 L445.40,28.47 L443.79,29.08 L443.94,27.52 L442.79,26.34 L444.50,25.99ZM450.30,31.45 L451.20,32.79 L452.91,33.14 L451.76,34.32 L451.91,35.88 L450.30,35.27 L448.69,35.88 L448.84,34.32 L447.69,33.14 L449.40,32.79ZM455.40,28.25 L456.30,29.59 L458.01,29.94 L456.86,31.12 L457.01,32.68 L455.40,32.07 L453.79,32.68 L453.94,31.12 L452.79,29.94 L454.50,29.59ZM460.50,33.55 L461.40,34.89 L463.11,35.24 L461.96,36.42 L462.11,37.98 L460.50,37.37 L458.89,37.98 L459.04,36.42 L457.89,35.24 L459.60,34.89ZM465.40,31.25 L466.30,32.59 L468.01,32.94 L466.86,34.12 L467.01,35.68 L465.40,35.07 L463.79,35.68 L463.94,34.12 L462.79,32.94 L464.50,32.59ZM470.30,30.45 L471.20,31.79 L472.91,32.14 L471.76,33.32 L471.91,34.88 L470.30,34.27 L468.69,34.88 L468.84,33.32 L467.69,32.14 L469.40,31.79ZM475.00,34.35 L475.90,35.69 L477.61,36.04 L476.46,37.22 L476.61,38.78 L475.00,38.17 L473.39,38.78 L473.54,37.22 L472.39,36.04 L474.10,35.69ZM480.00,39.95 L480.90,41.29 L482.61,41.64 L481.46,42.82 L481.61,44.38 L480.00,43.77 L478.39,44.38 L478.54,42.82 L477.39,41.64 L479.10,41.29ZM485.00,41.45 L485.90,42.79 L487.61,43.14 L486.46,44.32 L486.61,45.88 L485.00,45.27 L483.39,45.88 L483.54,44.32 L482.39,43.14 L484.10,42.79ZM490.00,38.55 L490.90,39.89 L492.61,40.24 L491.46,41.42 L491.61,42.98 L490.00,42.37 L488.39,42.98 L488.54,41.42 L487.39,40.24 L489.10,39.89ZM495.00,38.95 L495.90,40.29 L497.61,40.64 L496.46,41.82 L496.61,43.38 L495.00,42.77 L493.39,43.38 L493.54,41.82 L492.39,40.64 L494.10,40.29ZM500.00,38.25 L500.90,39.59 L502.61,39.94 L501.46,41.12 L501.61,42.68 L500.00,42.07 L498.39,42.68 L498.54,41.12 L497.39,39.94 L499.10,39.59ZM505.00,40.85 L505.90,42.19 L507.61,42.54 L506.46,43.72 L506.61,45.28 L505.00,44.67 L503.39,45.28 L503.54,43.72 L502.39,42.54 L504.10,42.19ZM510.00,39.45 L510.90,40.79 L512.61,41.14 L511.46,42.32 L511.61,43.88 L510.00,43.27 L508.39,43.88 L508.54,42.32 L507.39,41.14 L509.10,40.79ZM515.00,37.55 L515.90,38.89 L517.61,39.24 L516.46,40.42 L516.61,41.98 L515.00,41.37 L513.39,41.98 L513.54,40.42 L512.39,39.24 L514.10,38.89ZM520.00,38.95 L520.90,40.29 L522.61,40.64 L521.46,41.82 L521.61,43.38 L520.00,42.77 L518.39,43.38 L518.54,41.82 L517.39,40.64 L519.10,40.29ZM525.00,40.45 L525.90,41.79 L527.61,42.14 L526.46,43.32 L526.61,44.88 L525.00,44.27 L523.39,44.88 L523.54,43.32 L522.39,42.14 L524.10,41.79ZM530.00,43.25 L530.90,44.59 L532.61,44.94 L531.46,46.12 L531.61,47.68 L530.00,47.07 L528.39,47.68 L528.54,46.12 L527.39,44.94 L529.10,44.59ZM535.00,43.25 L535.90,44.59 L537.61,44.94 L536.46,46.12 L536.61,47.68 L535.00,47.07 L533.39,47.68 L533.54,46.12 L532.39,44.94 L534.10,44.59ZM540.00,42.55 L540.90,43.89 L542.61,44.24 L541.46,45.42 L541.61,46.98 L540.00,46.37 L538.39,46.98 L538.54,45.42 L537.39,44.24 L539.10,43.89ZM545.00,39.65 L545.90,40.99 L547.61,41.34 L546.46,42.52 L546.61,44.08 L545.00,43.47 L543.39,44.08 L543.54,42.52 L542.39,41.34 L544.10,40.99ZM550.00,41.55 L550.90,42.89 L552.61,43.24 L551.46,44.42 L551.61,45.98 L550.00,45.37 L548.39,45.98 L548.54,44.42 L547.39,43.24 L549.10,42.89ZM554.30,44.65 L555.20,45.99 L556.91,46.34 L555.76,47.52 L555.91,49.08 L554.30,48.47 L552.69,49.08 L552.84,47.52 L551.69,46.34 L553.40,45.99ZM559.30,45.45 L560.20,46.79 L561.91,47.14 L560.76,48.32 L560.91,49.88 L559.30,49.27 L557.69,49.88 L557.84,48.32 L556.69,47.14 L558.40,46.79ZM564.30,44.45 L565.20,45.79 L566.91,46.14 L565.76,47.32 L565.91,48.88 L564.30,48.27 L562.69,48.88 L562.84,47.32 L561.69,46.14 L563.40,45.79ZM569.30,45.45 L570.20,46.79 L571.91,47.14 L570.76,48.32 L570.91,49.88 L569.30,49.27 L567.69,49.88 L567.84,48.32 L566.69,47.14 L568.40,46.79ZM574.30,46.15 L575.20,47.49 L576.91,47.84 L575.76,49.02 L575.91,50.58 L574.30,49.97 L572.69,50.58 L572.84,49.02 L571.69,47.84 L573.40,47.49ZM579.30,46.85 L580.20,48.19 L581.91,48.54 L580.76,49.72 L580.91,51.28 L579.30,50.67 L577.69,51.28 L577.84,49.72 L576.69,48.54 L578.40,48.19ZM584.30,47.85 L585.20,49.19 L586.91,49.54 L585.76,50.72 L585.91,52.28 L584.30,51.67 L582.69,52.28 L582.84,50.72 L581.69,49.54 L583.40,49.19ZM588.60,48.65 L589.50,49.99 L591.21,50.34 L590.06,51.52 L590.21,53.08 L588.60,52.47 L586.99,53.08 L587.14,51.52 L585.99,50.34 L587.70,49.99ZM593.60,49.25 L594.50,50.59 L596.21,50.94 L595.06,52.12 L595.21,53.68 L593.60,53.07 L591.99,53.68 L592.14,52.12 L590.99,50.94 L592.70,50.59ZM598.60,49.95 L599.50,51.29 L601.21,51.64 L600.06,52.82 L600.21,54.38 L598.60,53.77 L596.99,54.38 L597.14,52.82 L595.99,51.64 L597.70,51.29ZM604.30,50.45 L605.20,51.79 L606.91,52.14 L605.76,53.32 L605.91,54.88 L604.30,54.27 L602.69,54.88 L602.84,53.32 L601.69,52.14 L603.40,51.79ZM609.30,51.95 L610.20,53.29 L611.91,53.64 L610.76,54.82 L610.91,56.38 L609.30,55.77 L607.69,56.38 L607.84,54.82 L606.69,53.64 L608.40,53.29ZM614.30,54.55 L615.20,55.89 L616.91,56.24 L615.76,57.42 L615.91,58.98 L614.30,58.37 L612.69,58.98 L612.84,57.42 L611.69,56.24 L613.40,55.89ZM619.30,55.55 L620.20,56.89 L621.91,57.24 L620.76,58.42 L620.91,59.98 L619.30,59.37 L617.69,59.98 L617.84,58.42 L616.69,57.24 L618.40,56.89ZM624.30,56.85 L625.20,58.19 L626.91,58.54 L625.76,59.72 L625.91,61.28 L624.30,60.67 L622.69,61.28 L622.84,59.72 L621.69,58.54 L623.40,58.19ZM629.30,57.35 L630.20,58.69 L631.91,59.04 L630.76,60.22 L630.91,61.78 L629.30,61.17 L627.69,61.78 L627.84,60.22 L626.69,59.04 L628.40,58.69ZM633.60,60.95 L634.50,62.29 L636.21,62.64 L635.06,63.82 L635.21,65.38 L633.60,64.77 L631.99,65.38 L632.14,63.82 L630.99,62.64 L632.70,62.29ZM638.60,63.35 L639.50,64.69 L641.21,65.04 L640.06,66.22 L640.21,67.78 L638.60,67.17 L636.99,67.78 L637.14,66.22 L635.99,65.04 L637.70,64.69ZM643.60,65.05 L644.50,66.39 L646.21,66.74 L645.06,67.92 L645.21,69.48 L643.60,68.87 L641.99,69.48 L642.14,67.92 L640.99,66.74 L642.70,66.39ZM648.60,66.55 L649.50,67.89 L651.21,68.24 L650.06,69.42 L650.21,70.98 L648.60,70.37 L646.99,70.98 L647.14,69.42 L645.99,68.24 L647.70,67.89ZM653.60,63.65 L654.50,64.99 L656.21,65.34 L655.06,66.52 L655.21,68.08 L653.60,67.47 L651.99,68.08 L652.14,66.52 L650.99,65.34 L652.70,64.99ZM658.60,65.65 L659.50,66.99 L661.21,67.34 L660.06,68.52 L660.21,70.08 L658.60,69.47 L656.99,70.08 L657.14,68.52 L655.99,67.34 L657.70,66.99ZM662.90,68.55 L663.80,69.89 L665.51,70.24 L664.36,71.42 L664.51,72.98 L662.90,72.37 L661.29,72.98 L661.44,71.42 L660.29,70.24 L662.00,69.89ZM667.90,68.55 L668.80,69.89 L670.51,70.24 L669.36,71.42 L669.51,72.98 L667.90,72.37 L666.29,72.98 L666.44,71.42 L665.29,70.24 L667.00,69.89ZM672.90,71.85 L673.80,73.19 L675.51,73.54 L674.36,74.72 L674.51,76.28 L672.90,75.67 L671.29,76.28 L671.44,74.72 L670.29,73.54 L672.00,73.19ZM677.90,71.15 L678.80,72.49 L680.51,72.84 L679.36,74.02 L679.51,75.58 L677.90,74.97 L676.29,75.58 L676.44,74.02 L675.29,72.84 L677.00,72.49ZM682.90,73.65 L683.80,74.99 L685.51,75.34 L684.36,76.52 L684.51,78.08 L682.90,77.47 L681.29,78.08 L681.44,76.52 L680.29,75.34 L682.00,74.99ZM687.90,73.25 L688.80,74.59 L690.51,74.94 L689.36,76.12 L689.51,77.68 L687.90,77.07 L686.29,77.68 L686.44,76.12 L685.29,74.94 L687.00,74.59ZM692.90,73.25 L693.80,74.59 L695.51,74.94 L694.36,76.12 L694.51,77.68 L692.90,77.07 L691.29,77.68 L691.44,76.12 L690.29,74.94 L692.00,74.59ZM697.90,73.65 L698.80,74.99 L700.51,75.34 L699.36,76.52 L699.51,78.08 L697.90,77.47 L696.29,78.08 L696.44,76.52 L695.29,75.34 L697.00,74.99Z" fill="#ff0000" stroke="#ff0000" stroke-width="0.4" stroke-linejoin="round"/>
<line x1="508.60" y1="33.60" x2="684.30" y2="80.70" stroke="#18c2c8" stroke-width="1.5"/>
<line x1="508.60" y1="35.70" x2="682.90" y2="72.90" stroke="#c030d0" stroke-width="1.5"/>
</g>
<ellipse cx="48.60" cy="128.90" rx="1.75" ry="2.0" fill="#1f6fb4"/>
<ellipse cx="62.10" cy="128.90" rx="1.75" ry="2.0" fill="#1f6fb4"/>
<ellipse cx="76.90" cy="129.70" rx="1.75" ry="2.0" fill="#1f6fb4"/>
<ellipse cx="76.90" cy="141.70" rx="1.75" ry="2.0" fill="#1f6fb4"/>
<ellipse cx="90.40" cy="131.40" rx="1.75" ry="2.0" fill="#1f6fb4"/>
<ellipse cx="90.40" cy="139.60" rx="1.75" ry="2.0" fill="#1f6fb4"/>
<ellipse cx="105.00" cy="126.70" rx="1.75" ry="2.0" fill="#1f6fb4"/>
<ellipse cx="118.60" cy="134.60" rx="1.75" ry="2.0" fill="#1f6fb4"/>
<ellipse cx="105.00" cy="160.30" rx="1.75" ry="2.0" fill="#1f6fb4"/>
<ellipse cx="146.90" cy="142.40" rx="1.75" ry="2.0" fill="#1f6fb4"/>
<ellipse cx="146.90" cy="154.60" rx="1.75" ry="2.0" fill="#1f6fb4"/>
<ellipse cx="161.10" cy="157.60" rx="1.75" ry="2.0" fill="#1f6fb4"/>
<ellipse cx="175.00" cy="133.60" rx="1.75" ry="2.0" fill="#1f6fb4"/>
<ellipse cx="175.00" cy="150.70" rx="1.75" ry="2.0" fill="#1f6fb4"/>
<ellipse cx="189.30" cy="156.10" rx="1.75" ry="2.0" fill="#1f6fb4"/>
<ellipse cx="203.60" cy="111.40" rx="1.75" ry="2.0" fill="#1f6fb4"/>
<ellipse cx="217.40" cy="156.10" rx="1.75" ry="2.0" fill="#1f6fb4"/>
<ellipse cx="217.40" cy="165.00" rx="1.75" ry="2.0" fill="#1f6fb4"/>
<ellipse cx="232.10" cy="181.70" rx="1.75" ry="2.0" fill="#1f6fb4"/>
<ellipse cx="260.00" cy="164.30" rx="1.75" ry="2.0" fill="#1f6fb4"/>
<ellipse cx="260.00" cy="181.70" rx="1.75" ry="2.0" fill="#1f6fb4"/>
<ellipse cx="273.80" cy="183.50" rx="1.75" ry="2.0" fill="#1f6fb4"/>
<ellipse cx="288.20" cy="173.80" rx="1.75" ry="2.0" fill="#1f6fb4"/>
<ellipse cx="302.00" cy="184.20" rx="1.75" ry="2.0" fill="#1f6fb4"/>
<ellipse cx="302.00" cy="190.00" rx="1.75" ry="2.0" fill="#1f6fb4"/>
<ellipse cx="316.10" cy="180.80" rx="1.75" ry="2.0" fill="#1f6fb4"/>
<polyline points="47.90,131.36 52.69,131.36 57.49,131.42 62.28,131.55 67.07,131.74 71.87,132.00 76.66,132.31 81.45,132.69 86.25,133.12 91.04,133.60 95.83,134.14 100.63,134.73 105.42,135.37 110.21,136.06 115.01,136.79 119.80,137.56 124.59,138.38 129.38,139.24 134.18,140.13 138.97,141.06 143.76,142.03 148.56,143.03 153.35,144.05 158.14,145.11 162.94,146.20 167.73,147.31 172.52,148.44 177.32,149.60 182.11,150.77 186.90,151.96 191.70,153.17 196.49,154.40 201.28,155.63 206.08,156.88 210.87,158.13 215.66,159.39 220.46,160.66 225.25,161.93 230.04,163.20 234.84,164.47 239.63,165.74 244.42,167.00 249.22,168.26 254.01,169.50 258.80,170.74 263.59,171.97 268.39,173.19 273.18,174.38 277.97,175.57 282.77,176.73 287.56,177.87 292.35,178.99 297.15,180.08 301.94,181.15 306.73,182.19 311.53,183.20 316.32,184.18 321.11,185.12 325.91,186.03 330.70,186.90" fill="none" stroke="#18c2c8" stroke-width="2.0" stroke-linejoin="round" stroke-linecap="butt"/>
<path d="M48.60,212.70 L51.70,219.30 L45.50,219.30ZM69.70,225.30 L72.80,231.90 L66.60,231.90ZM81.10,218.10 L84.20,224.70 L78.00,224.70ZM91.70,232.40 L94.80,239.00 L88.60,239.00ZM102.10,234.80 L105.20,241.40 L99.00,241.40ZM113.60,229.30 L116.70,235.90 L110.50,235.90ZM124.30,223.60 L127.40,230.20 L121.20,230.20ZM81.10,242.90 L84.20,249.50 L78.00,249.50ZM91.70,242.10 L94.80,248.70 L88.60,248.70ZM113.60,241.00 L116.70,247.60 L110.50,247.60ZM69.70,257.40 L72.80,264.00 L66.60,264.00ZM124.30,258.80 L127.40,265.40 L121.20,265.40ZM135.00,250.30 L138.10,256.90 L131.90,256.90ZM135.00,256.70 L138.10,263.30 L131.90,263.30ZM146.00,218.80 L149.10,225.40 L142.90,225.40ZM156.90,233.80 L160.00,240.40 L153.80,240.40ZM167.40,237.00 L170.50,243.60 L164.30,243.60ZM199.70,236.30 L202.80,242.90 L196.60,242.90ZM221.90,239.70 L225.00,246.30 L218.80,246.30ZM146.00,269.60 L149.10,276.20 L142.90,276.20ZM167.40,272.40 L170.50,279.00 L164.30,279.00ZM178.60,257.70 L181.70,264.30 L175.50,264.30ZM211.00,274.80 L214.10,281.40 L207.90,281.40ZM276.40,256.70 L279.50,263.30 L273.30,263.30ZM243.80,284.00 L246.90,290.60 L240.70,290.60ZM286.90,291.80 L290.00,298.40 L283.80,298.40ZM319.30,276.60 L322.40,283.20 L316.20,283.20ZM330.10,280.30 L333.20,286.90 L327.00,286.90Z" fill="#808000"/>
<polyline points="47.90,234.66 52.68,234.75 57.47,234.91 62.25,235.13 67.03,235.42 71.82,235.76 76.60,236.16 81.38,236.61 86.16,237.11 90.95,237.67 95.73,238.27 100.51,238.92 105.30,239.62 110.08,240.35 114.86,241.13 119.65,241.94 124.43,242.79 129.21,243.68 133.99,244.59 138.78,245.53 143.56,246.50 148.34,247.49 153.13,248.51 157.91,249.55 162.69,250.60 167.48,251.68 172.26,252.76 177.04,253.86 181.83,254.97 186.61,256.09 191.39,257.21 196.17,258.33 200.96,259.46 205.74,260.58 210.52,261.71 215.31,262.82 220.09,263.93 224.87,265.04 229.66,266.13 234.44,267.20 239.22,268.26 244.01,269.31 248.79,270.33 253.57,271.33 258.35,272.30 263.14,273.26 267.92,274.18 272.70,275.07 277.49,275.93 282.27,276.75 287.05,277.54 291.84,278.28 296.62,278.99 301.40,279.65 306.18,280.27 310.97,280.84 315.75,281.36 320.53,281.83 325.32,282.24 330.10,282.60" fill="none" stroke="#108a10" stroke-width="2.05" stroke-linejoin="round" stroke-linecap="butt"/>
<ellipse cx="418.30" cy="130.70" rx="1.8" ry="1.55" fill="#1f6fb4"/>
<ellipse cx="431.90" cy="124.70" rx="1.8" ry="1.55" fill="#1f6fb4"/>
<ellipse cx="431.90" cy="134.30" rx="1.8" ry="1.55" fill="#1f6fb4"/>
<ellipse cx="445.30" cy="127.60" rx="1.8" ry="1.55" fill="#1f6fb4"/>
<ellipse cx="458.60" cy="118.30" rx="1.8" ry="1.55" fill="#1f6fb4"/>
<ellipse cx="458.60" cy="129.00" rx="1.8" ry="1.55" fill="#1f6fb4"/>
<ellipse cx="472.10" cy="110.70" rx="1.8" ry="1.55" fill="#1f6fb4"/>
<ellipse cx="485.00" cy="137.90" rx="1.8" ry="1.55" fill="#1f6fb4"/>
<ellipse cx="498.20" cy="124.70" rx="1.8" ry="1.55" fill="#1f6fb4"/>
<ellipse cx="511.70" cy="128.30" rx="1.8" ry="1.55" fill="#1f6fb4"/>
<ellipse cx="525.00" cy="132.60" rx="1.8" ry="1.55" fill="#1f6fb4"/>
<ellipse cx="525.00" cy="148.00" rx="1.8" ry="1.55" fill="#1f6fb4"/>
<ellipse cx="537.90" cy="160.70" rx="1.8" ry="1.55" fill="#1f6fb4"/>
<ellipse cx="551.40" cy="131.00" rx="1.8" ry="1.55" fill="#1f6fb4"/>
<ellipse cx="551.40" cy="162.90" rx="1.8" ry="1.55" fill="#1f6fb4"/>
<ellipse cx="564.70" cy="169.00" rx="1.8" ry="1.55" fill="#1f6fb4"/>
<ellipse cx="591.00" cy="163.50" rx="1.8" ry="1.55" fill="#1f6fb4"/>
<ellipse cx="604.30" cy="168.80" rx="1.8" ry="1.55" fill="#1f6fb4"/>
<ellipse cx="618.10" cy="176.00" rx="1.8" ry="1.55" fill="#1f6fb4"/>
<ellipse cx="631.10" cy="173.80" rx="1.8" ry="1.55" fill="#1f6fb4"/>
<ellipse cx="644.80" cy="183.20" rx="1.8" ry="1.55" fill="#1f6fb4"/>
<ellipse cx="670.90" cy="176.00" rx="1.8" ry="1.55" fill="#1f6fb4"/>
<ellipse cx="670.90" cy="184.60" rx="1.8" ry="1.55" fill="#1f6fb4"/>
<ellipse cx="684.60" cy="189.70" rx="1.8" ry="1.55" fill="#1f6fb4"/>
<ellipse cx="498.20" cy="155.50" rx="1.8" ry="1.55" fill="#1f6fb4"/>
<polyline points="417.90,124.25 422.42,124.38 426.94,124.57 431.46,124.84 435.98,125.18 440.50,125.59 445.02,126.05 449.54,126.59 454.06,127.18 458.58,127.82 463.10,128.53 467.62,129.29 472.14,130.09 476.66,130.95 481.18,131.86 485.71,132.82 490.23,133.81 494.75,134.85 499.27,135.93 503.79,137.05 508.31,138.20 512.83,139.38 517.35,140.60 521.87,141.85 526.39,143.12 530.91,144.42 535.43,145.74 539.95,147.09 544.47,148.45 548.99,149.83 553.51,151.23 558.03,152.64 562.55,154.06 567.07,155.49 571.59,156.93 576.11,158.37 580.63,159.82 585.15,161.27 589.67,162.71 594.19,164.16 598.71,165.60 603.23,167.03 607.75,168.45 612.27,169.86 616.79,171.26 621.32,172.65 625.84,174.01 630.36,175.36 634.88,176.69 639.40,177.99 643.92,179.27 648.44,180.52 652.96,181.74 657.48,182.93 662.00,184.09 666.52,185.21 671.04,186.30 675.56,187.34 680.08,188.34 684.60,189.31" fill="none" stroke="#18c2c8" stroke-width="1.9" stroke-linejoin="round" stroke-linecap="butt"/>
<path d="M418.30,212.30 L421.35,217.70 L415.25,217.70ZM445.00,224.40 L448.05,229.80 L441.95,229.80ZM431.70,238.50 L434.75,243.90 L428.65,243.90ZM458.60,243.10 L461.65,248.50 L455.55,248.50ZM484.80,241.40 L487.85,246.80 L481.75,246.80ZM472.10,249.40 L475.15,254.80 L469.05,254.80ZM485.00,252.30 L488.05,257.70 L481.95,257.70ZM498.30,257.30 L501.35,262.70 L495.25,262.70ZM445.00,260.40 L448.05,265.80 L441.95,265.80ZM472.10,263.00 L475.15,268.40 L469.05,268.40ZM525.00,263.70 L528.05,269.10 L521.95,269.10ZM537.90,272.30 L540.95,277.70 L534.85,277.70ZM537.90,279.40 L540.95,284.80 L534.85,284.80ZM551.70,270.90 L554.75,276.30 L548.65,276.30ZM565.00,273.70 L568.05,279.10 L561.95,279.10ZM565.00,284.40 L568.05,289.80 L561.95,289.80ZM578.30,278.00 L581.35,283.40 L575.25,283.40ZM617.70,288.20 L620.75,293.60 L614.65,293.60ZM631.10,291.30 L634.15,296.70 L628.05,296.70ZM670.90,286.40 L673.95,291.80 L667.85,291.80ZM684.20,289.90 L687.25,295.30 L681.15,295.30ZM525.20,248.30 L528.25,253.70 L522.15,253.70Z" fill="#808000"/>
<polyline points="417.90,236.32 422.41,236.65 426.93,237.15 431.44,237.81 435.95,238.61 440.47,239.54 444.98,240.59 449.49,241.74 454.01,242.99 458.52,244.32 463.04,245.73 467.55,247.19 472.06,248.71 476.58,250.27 481.09,251.86 485.60,253.47 490.12,255.11 494.63,256.75 499.14,258.39 503.66,260.02 508.17,261.64 512.68,263.24 517.20,264.82 521.71,266.36 526.23,267.88 530.74,269.35 535.25,270.78 539.77,272.16 544.28,273.49 548.79,274.77 553.31,275.99 557.82,277.16 562.33,278.26 566.85,279.31 571.36,280.30 575.87,281.23 580.39,282.09 584.90,282.90 589.42,283.65 593.93,284.34 598.44,284.98 602.96,285.57 607.47,286.10 611.98,286.59 616.50,287.04 621.01,287.45 625.52,287.82 630.04,288.17 634.55,288.49 639.06,288.80 643.58,289.09 648.09,289.38 652.61,289.67 657.12,289.97 661.63,290.29 666.15,290.64 670.66,291.02 675.17,291.44 679.69,291.92 684.20,292.46" fill="none" stroke="#108a10" stroke-width="1.8" stroke-linejoin="round" stroke-linecap="butt"/>
<line x1="34.30" y1="90.00" x2="34.30" y2="94.00" stroke="#3d3d3d" stroke-width="1.0"/>
<line x1="83.58" y1="90.00" x2="83.58" y2="94.00" stroke="#3d3d3d" stroke-width="1.0"/>
<line x1="132.87" y1="90.00" x2="132.87" y2="94.00" stroke="#3d3d3d" stroke-width="1.0"/>
<line x1="182.15" y1="90.00" x2="182.15" y2="94.00" stroke="#3d3d3d" stroke-width="1.0"/>
<line x1="231.44" y1="90.00" x2="231.44" y2="94.00" stroke="#3d3d3d" stroke-width="1.0"/>
<line x1="280.72" y1="90.00" x2="280.72" y2="94.00" stroke="#3d3d3d" stroke-width="1.0"/>
<line x1="330.01" y1="90.00" x2="330.01" y2="94.00" stroke="#3d3d3d" stroke-width="1.0"/>
<line x1="30.90" y1="7.20" x2="34.30" y2="7.20" stroke="#3d3d3d" stroke-width="1.0"/>
<line x1="30.90" y1="51.30" x2="34.30" y2="51.30" stroke="#3d3d3d" stroke-width="1.0"/>
<rect x="34.30" y="3.40" width="310.20" height="86.60" fill="none" stroke="#3d3d3d" stroke-width="1.15"/>
<line x1="48.60" y1="194.70" x2="48.60" y2="198.70" stroke="#3d3d3d" stroke-width="1.0"/>
<line x1="88.90" y1="194.70" x2="88.90" y2="198.70" stroke="#3d3d3d" stroke-width="1.0"/>
<line x1="129.20" y1="194.70" x2="129.20" y2="198.70" stroke="#3d3d3d" stroke-width="1.0"/>
<line x1="169.50" y1="194.70" x2="169.50" y2="198.70" stroke="#3d3d3d" stroke-width="1.0"/>
<line x1="209.80" y1="194.70" x2="209.80" y2="198.70" stroke="#3d3d3d" stroke-width="1.0"/>
<line x1="250.10" y1="194.70" x2="250.10" y2="198.70" stroke="#3d3d3d" stroke-width="1.0"/>
<line x1="290.40" y1="194.70" x2="290.40" y2="198.70" stroke="#3d3d3d" stroke-width="1.0"/>
<line x1="330.70" y1="194.70" x2="330.70" y2="198.70" stroke="#3d3d3d" stroke-width="1.0"/>
<line x1="30.90" y1="129.30" x2="34.30" y2="129.30" stroke="#3d3d3d" stroke-width="1.0"/>
<line x1="30.90" y1="174.80" x2="34.30" y2="174.80" stroke="#3d3d3d" stroke-width="1.0"/>
<rect x="34.30" y="107.40" width="310.20" height="87.30" fill="none" stroke="#3d3d3d" stroke-width="1.15"/>
<line x1="49.30" y1="299.20" x2="49.30" y2="303.20" stroke="#3d3d3d" stroke-width="1.0"/>
<line x1="90.00" y1="299.20" x2="90.00" y2="303.20" stroke="#3d3d3d" stroke-width="1.0"/>
<line x1="130.70" y1="299.20" x2="130.70" y2="303.20" stroke="#3d3d3d" stroke-width="1.0"/>
<line x1="171.40" y1="299.20" x2="171.40" y2="303.20" stroke="#3d3d3d" stroke-width="1.0"/>
<line x1="212.10" y1="299.20" x2="212.10" y2="303.20" stroke="#3d3d3d" stroke-width="1.0"/>
<line x1="252.80" y1="299.20" x2="252.80" y2="303.20" stroke="#3d3d3d" stroke-width="1.0"/>
<line x1="293.50" y1="299.20" x2="293.50" y2="303.20" stroke="#3d3d3d" stroke-width="1.0"/>
<line x1="334.20" y1="299.20" x2="334.20" y2="303.20" stroke="#3d3d3d" stroke-width="1.0"/>
<line x1="30.90" y1="219.00" x2="34.30" y2="219.00" stroke="#3d3d3d" stroke-width="1.0"/>
<line x1="30.90" y1="275.80" x2="34.30" y2="275.80" stroke="#3d3d3d" stroke-width="1.0"/>
<rect x="34.30" y="211.60" width="310.20" height="87.60" fill="none" stroke="#3d3d3d" stroke-width="1.15"/>
<line x1="405.50" y1="89.20" x2="405.50" y2="92.40" stroke="#3d3d3d" stroke-width="1.0"/>
<line x1="451.85" y1="89.20" x2="451.85" y2="92.40" stroke="#3d3d3d" stroke-width="1.0"/>
<line x1="498.20" y1="89.20" x2="498.20" y2="92.40" stroke="#3d3d3d" stroke-width="1.0"/>
<line x1="544.55" y1="89.20" x2="544.55" y2="92.40" stroke="#3d3d3d" stroke-width="1.0"/>
<line x1="590.90" y1="89.20" x2="590.90" y2="92.40" stroke="#3d3d3d" stroke-width="1.0"/>
<line x1="637.25" y1="89.20" x2="637.25" y2="92.40" stroke="#3d3d3d" stroke-width="1.0"/>
<line x1="683.60" y1="89.20" x2="683.60" y2="92.40" stroke="#3d3d3d" stroke-width="1.0"/>
<line x1="402.20" y1="6.80" x2="405.60" y2="6.80" stroke="#3d3d3d" stroke-width="1.0"/>
<line x1="402.20" y1="28.50" x2="405.60" y2="28.50" stroke="#3d3d3d" stroke-width="1.0"/>
<line x1="402.20" y1="50.30" x2="405.60" y2="50.30" stroke="#3d3d3d" stroke-width="1.0"/>
<line x1="402.20" y1="72.10" x2="405.60" y2="72.10" stroke="#3d3d3d" stroke-width="1.0"/>
<rect x="405.60" y="2.00" width="292.00" height="87.20" fill="none" stroke="#3d3d3d" stroke-width="1.15"/>
<line x1="418.40" y1="193.20" x2="418.40" y2="196.40" stroke="#3d3d3d" stroke-width="1.0"/>
<line x1="456.40" y1="193.20" x2="456.40" y2="196.40" stroke="#3d3d3d" stroke-width="1.0"/>
<line x1="494.40" y1="193.20" x2="494.40" y2="196.40" stroke="#3d3d3d" stroke-width="1.0"/>
<line x1="532.40" y1="193.20" x2="532.40" y2="196.40" stroke="#3d3d3d" stroke-width="1.0"/>
<line x1="570.40" y1="193.20" x2="570.40" y2="196.40" stroke="#3d3d3d" stroke-width="1.0"/>
<line x1="608.40" y1="193.20" x2="608.40" y2="196.40" stroke="#3d3d3d" stroke-width="1.0"/>
<line x1="646.40" y1="193.20" x2="646.40" y2="196.40" stroke="#3d3d3d" stroke-width="1.0"/>
<line x1="684.40" y1="193.20" x2="684.40" y2="196.40" stroke="#3d3d3d" stroke-width="1.0"/>
<line x1="402.20" y1="112.10" x2="405.60" y2="112.10" stroke="#3d3d3d" stroke-width="1.0"/>
<line x1="402.20" y1="130.55" x2="405.60" y2="130.55" stroke="#3d3d3d" stroke-width="1.0"/>
<line x1="402.20" y1="149.00" x2="405.60" y2="149.00" stroke="#3d3d3d" stroke-width="1.0"/>
<line x1="402.20" y1="167.45" x2="405.60" y2="167.45" stroke="#3d3d3d" stroke-width="1.0"/>
<line x1="402.20" y1="185.90" x2="405.60" y2="185.90" stroke="#3d3d3d" stroke-width="1.0"/>
<rect x="405.60" y="106.90" width="292.00" height="86.30" fill="none" stroke="#3d3d3d" stroke-width="1.15"/>
<line x1="418.40" y1="297.90" x2="418.40" y2="301.10" stroke="#3d3d3d" stroke-width="1.0"/>
<line x1="461.75" y1="297.90" x2="461.75" y2="301.10" stroke="#3d3d3d" stroke-width="1.0"/>
<line x1="505.10" y1="297.90" x2="505.10" y2="301.10" stroke="#3d3d3d" stroke-width="1.0"/>
<line x1="548.45" y1="297.90" x2="548.45" y2="301.10" stroke="#3d3d3d" stroke-width="1.0"/>
<line x1="591.80" y1="297.90" x2="591.80" y2="301.10" stroke="#3d3d3d" stroke-width="1.0"/>
<line x1="635.15" y1="297.90" x2="635.15" y2="301.10" stroke="#3d3d3d" stroke-width="1.0"/>
<line x1="678.50" y1="297.90" x2="678.50" y2="301.10" stroke="#3d3d3d" stroke-width="1.0"/>
<line x1="402.20" y1="232.40" x2="405.60" y2="232.40" stroke="#3d3d3d" stroke-width="1.0"/>
<line x1="402.20" y1="257.60" x2="405.60" y2="257.60" stroke="#3d3d3d" stroke-width="1.0"/>
<line x1="402.20" y1="282.80" x2="405.60" y2="282.80" stroke="#3d3d3d" stroke-width="1.0"/>
<rect x="405.60" y="211.20" width="292.00" height="86.70" fill="none" stroke="#3d3d3d" stroke-width="1.15"/>
<rect x="268.10" y="7.50" width="72.20" height="54.30" rx="2" ry="2" fill="#fff" fill-opacity="0.8" stroke="#dcdcdc" stroke-width="0.9"/>
<line x1="269.90" y1="14.00" x2="284.90" y2="14.00" stroke="#18c2c8" stroke-width="1.7"/>
<line x1="269.90" y1="26.80" x2="284.90" y2="26.80" stroke="#c030d0" stroke-width="1.7"/>
<line x1="269.90" y1="40.20" x2="284.90" y2="40.20" stroke="#0000ff" stroke-width="1.7"/>
<line x1="269.90" y1="53.00" x2="284.90" y2="53.00" stroke="#ff0000" stroke-width="1.7"/>
<rect x="269.30" y="112.80" width="71.10" height="20.10" rx="2" ry="2" fill="#fff" fill-opacity="0.8" stroke="#dcdcdc" stroke-width="0.9"/>
<line x1="271.60" y1="122.30" x2="290.40" y2="122.30" stroke="#18c2c8" stroke-width="1.7"/>
<rect x="259.30" y="217.10" width="81.00" height="20.80" rx="2" ry="2" fill="#fff" fill-opacity="0.8" stroke="#dcdcdc" stroke-width="0.9"/>
<line x1="261.70" y1="226.10" x2="280.00" y2="226.10" stroke="#108a10" stroke-width="1.7"/>
<rect x="588.60" y="5.50" width="104.00" height="27.70" rx="2" ry="2" fill="#fff" fill-opacity="0.8" stroke="#dcdcdc" stroke-width="0.9"/>
<line x1="592.10" y1="12.60" x2="613.30" y2="12.60" stroke="#18c2c8" stroke-width="1.5"/>
<line x1="592.10" y1="25.30" x2="613.30" y2="25.30" stroke="#c030d0" stroke-width="1.5"/>
<rect x="612.50" y="110.90" width="80.60" height="14.60" rx="2" ry="2" fill="#fff" fill-opacity="0.8" stroke="#dcdcdc" stroke-width="0.9"/>
<line x1="615.50" y1="117.60" x2="636.00" y2="117.60" stroke="#18c2c8" stroke-width="1.5"/>
<rect x="606.40" y="215.30" width="86.50" height="15.10" rx="2" ry="2" fill="#fff" fill-opacity="0.8" stroke="#dcdcdc" stroke-width="0.9"/>
<line x1="609.70" y1="221.70" x2="630.30" y2="221.70" stroke="#108a10" stroke-width="1.5"/>
<text transform="matrix(0,-0.12236,0.08222,0,10.573,72.679)" font-size="100" fill="#262626" stroke="#262626" stroke-width="3.91">Log Dens</text>
<text transform="matrix(0.10130,0,0,0.10563,42.496,76.694)" font-size="100" fill="#ff2020" stroke="#ff2020" stroke-width="1.45"><tspan font-style="italic">σ</tspan>=2.34</text>
<text transform="matrix(0.10163,0,0,0.10704,42.495,85.493)" font-size="100" fill="#2020ff" stroke="#2020ff" stroke-width="1.44"><tspan font-style="italic">σ</tspan>=0.00</text>
<text transform="matrix(0.07970,0,0,0.10000,289.642,19.000)" font-size="100" fill="#262626" stroke="#262626" stroke-width="0.89">hr_disk= 3.51</text>
<text transform="matrix(0.08038,0,0,0.10108,289.637,31.578)" font-size="100" fill="#262626" stroke="#262626" stroke-width="0.88">hr_arm= 5.05</text>
<text transform="matrix(0.07970,0,0,0.09247,289.642,43.851)" font-size="100" fill="#262626" stroke="#262626" stroke-width="0.93">hr_disk= 3.51</text>
<text transform="matrix(0.08038,0,0,0.09677,289.637,56.865)" font-size="100" fill="#262626" stroke="#262626" stroke-width="0.90">hr_arm= 3.85</text>
<text transform="matrix(0,-0.12016,0.09459,0,9.105,172.961)" font-size="100" fill="#262626" stroke="#262626" stroke-width="3.73">Dens/D0</text>
<text transform="matrix(0.10294,0,0,0.11831,48.491,174.282)" font-size="100" fill="#111" stroke="#111" stroke-width="3.62"><tspan font-style="italic">σ</tspan>=0.70</text>
<text transform="matrix(0.10304,0,0,0.10319,172.976,121.833)" font-size="100" fill="#262626" stroke="#262626" stroke-width="0.78">R [kpc]</text>
<text transform="matrix(0.10373,0,0,0.11081,296.274,126.189)" font-size="100" fill="#262626" stroke="#262626" stroke-width="0.75">hz= 0.65</text>
<text transform="matrix(0,-0.12016,0.09189,0,17.908,279.461)" font-size="100" fill="#262626" stroke="#262626" stroke-width="3.77">Dens/D0</text>
<text transform="matrix(0.10261,0,0,0.11571,48.492,298.284)" font-size="100" fill="#262626" stroke="#262626" stroke-width="0.73"><tspan font-style="italic">σ</tspan>=1.44</text>
<text transform="matrix(0.10000,0,0,0.11383,170.500,225.910)" font-size="100" fill="#262626" stroke="#262626" stroke-width="0.75">Zh [Kpc]</text>
<text transform="matrix(0.10304,0,0,0.10851,172.976,329.921)" font-size="100" fill="#262626" stroke="#262626" stroke-width="0.76">R [kpc]</text>
<text transform="matrix(0.10062,0,0,0.11622,286.095,230.584)" font-size="100" fill="#262626" stroke="#262626" stroke-width="0.74">Rth=-24.32</text>
<text transform="matrix(0,-0.09279,0.08333,0,368.250,65.642)" font-size="100" fill="#262626" stroke="#262626" stroke-width="2.27">Log Dens</text>
<text transform="matrix(0.11569,0,0,0.07606,412.653,75.924)" font-size="100" fill="#ff2020" stroke="#ff2020" stroke-width="2.09"><tspan font-style="italic">σ</tspan>=0.19</text>
<text transform="matrix(0.11438,0,0,0.07042,412.657,83.830)" font-size="100" fill="#2020ff" stroke="#2020ff" stroke-width="2.16"><tspan font-style="italic">σ</tspan>=0.05</text>
<text transform="matrix(0.11337,0,0,0.09677,620.106,15.965)" font-size="100" fill="#262626" stroke="#262626" stroke-width="1.90">hr_disk= 3.51</text>
<text transform="matrix(0.11433,0,0,0.10000,620.100,27.900)" font-size="100" fill="#262626" stroke="#262626" stroke-width="1.87">hr_arm= 4.45</text>
<text transform="matrix(0,-0.08992,0.09189,0,376.108,166.419)" font-size="100" fill="#262626" stroke="#262626" stroke-width="2.20">Dens/D0</text>
<text transform="matrix(0.11569,0,0,0.09014,418.253,175.710)" font-size="100" fill="#262626" stroke="#262626" stroke-width="1.94"><tspan font-style="italic">σ</tspan>=0.36</text>
<text transform="matrix(0.11470,0,0,0.08649,643.197,120.314)" font-size="100" fill="#262626" stroke="#262626" stroke-width="1.99">hz=-0.65</text>
<text transform="matrix(0,-0.08886,0.08514,0,385.515,272.411)" font-size="100" fill="#262626" stroke="#262626" stroke-width="2.30">Dens/D0</text>
<text transform="matrix(0.11569,0,0,0.09014,418.253,291.710)" font-size="100" fill="#262626" stroke="#262626" stroke-width="1.94"><tspan font-style="italic">σ</tspan>=1.60</text>
<text transform="matrix(0.11349,0,0,0.08919,637.692,224.611)" font-size="100" fill="#262626" stroke="#262626" stroke-width="1.97">Rth=-5.15</text>
<text transform="matrix(0.11689,0,0,0.09362,532.565,321.434)" font-size="100" fill="#262626" stroke="#262626" stroke-width="1.90">R [kpc]</text>
<text transform="matrix(0.09064,0,0,0.10300,31.762,106.097)" font-size="100" fill="#262626" stroke="#262626" stroke-width="4.13">0</text>
<text transform="matrix(0.09064,0,0,0.10300,81.092,106.097)" font-size="100" fill="#262626" stroke="#262626" stroke-width="4.13">5</text>
<text transform="matrix(0.09064,0,0,0.10300,127.658,106.097)" font-size="100" fill="#262626" stroke="#262626" stroke-width="4.13">10</text>
<text transform="matrix(0.09064,0,0,0.10300,176.943,106.097)" font-size="100" fill="#262626" stroke="#262626" stroke-width="4.13">15</text>
<text transform="matrix(0.09064,0,0,0.10300,226.364,106.097)" font-size="100" fill="#262626" stroke="#262626" stroke-width="4.13">20</text>
<text transform="matrix(0.09064,0,0,0.10300,275.649,106.097)" font-size="100" fill="#262626" stroke="#262626" stroke-width="4.13">25</text>
<text transform="matrix(0.09064,0,0,0.10300,324.979,106.097)" font-size="100" fill="#262626" stroke="#262626" stroke-width="4.13">30</text>
<text transform="matrix(0.09064,0,0,0.10300,42.301,210.297)" font-size="100" fill="#262626" stroke="#262626" stroke-width="4.13">0.0</text>
<text transform="matrix(0.09064,0,0,0.10300,82.646,210.297)" font-size="100" fill="#262626" stroke="#262626" stroke-width="4.13">0.1</text>
<text transform="matrix(0.09064,0,0,0.10300,122.946,210.297)" font-size="100" fill="#262626" stroke="#262626" stroke-width="4.13">0.2</text>
<text transform="matrix(0.09064,0,0,0.10300,163.201,210.297)" font-size="100" fill="#262626" stroke="#262626" stroke-width="4.13">0.3</text>
<text transform="matrix(0.09064,0,0,0.10300,203.455,210.297)" font-size="100" fill="#262626" stroke="#262626" stroke-width="4.13">0.4</text>
<text transform="matrix(0.09064,0,0,0.10300,243.801,210.297)" font-size="100" fill="#262626" stroke="#262626" stroke-width="4.13">0.5</text>
<text transform="matrix(0.09064,0,0,0.10300,284.101,210.297)" font-size="100" fill="#262626" stroke="#262626" stroke-width="4.13">0.6</text>
<text transform="matrix(0.09064,0,0,0.10300,324.446,210.297)" font-size="100" fill="#262626" stroke="#262626" stroke-width="4.13">0.7</text>
<text transform="matrix(0.09064,0,0,0.10300,46.762,315.197)" font-size="100" fill="#262626" stroke="#262626" stroke-width="4.13">0</text>
<text transform="matrix(0.09064,0,0,0.10300,87.507,315.197)" font-size="100" fill="#262626" stroke="#262626" stroke-width="4.13">5</text>
<text transform="matrix(0.09064,0,0,0.10300,125.488,315.197)" font-size="100" fill="#262626" stroke="#262626" stroke-width="4.13">10</text>
<text transform="matrix(0.09064,0,0,0.10300,166.188,315.197)" font-size="100" fill="#262626" stroke="#262626" stroke-width="4.13">15</text>
<text transform="matrix(0.09064,0,0,0.10300,207.024,315.197)" font-size="100" fill="#262626" stroke="#262626" stroke-width="4.13">20</text>
<text transform="matrix(0.09064,0,0,0.10300,247.724,315.197)" font-size="100" fill="#262626" stroke="#262626" stroke-width="4.13">25</text>
<text transform="matrix(0.09064,0,0,0.10300,288.469,315.197)" font-size="100" fill="#262626" stroke="#262626" stroke-width="4.13">30</text>
<text transform="matrix(0.09064,0,0,0.10300,329.169,315.197)" font-size="100" fill="#262626" stroke="#262626" stroke-width="4.13">35</text>
<text transform="matrix(0.09064,0,0,0.10300,17.702,11.454)" font-size="100" fill="#262626" stroke="#262626" stroke-width="4.13">20</text>
<text transform="matrix(0.09064,0,0,0.10300,17.502,55.202)" font-size="100" fill="#262626" stroke="#262626" stroke-width="4.13">15</text>
<text transform="matrix(0.09064,0,0,0.10300,14.764,132.754)" font-size="100" fill="#262626" stroke="#262626" stroke-width="4.13">1.0</text>
<text transform="matrix(0.09064,0,0,0.10300,14.764,178.354)" font-size="100" fill="#262626" stroke="#262626" stroke-width="4.13">0.5</text>
<text transform="matrix(0.09064,0,0,0.10300,22.677,222.205)" font-size="100" fill="#262626" stroke="#262626" stroke-width="4.13">2</text>
<text transform="matrix(0.09064,0,0,0.10300,22.677,279.953)" font-size="100" fill="#262626" stroke="#262626" stroke-width="4.13">1</text>
<text transform="matrix(0.10614,0,0,0.08700,402.528,101.313)" font-size="100" fill="#262626" stroke="#262626" stroke-width="2.07">0</text>
<text transform="matrix(0.10614,0,0,0.08700,448.931,101.313)" font-size="100" fill="#262626" stroke="#262626" stroke-width="2.07">5</text>
<text transform="matrix(0.10614,0,0,0.08700,492.097,101.313)" font-size="100" fill="#262626" stroke="#262626" stroke-width="2.07">10</text>
<text transform="matrix(0.10614,0,0,0.08700,538.447,101.313)" font-size="100" fill="#262626" stroke="#262626" stroke-width="2.07">15</text>
<text transform="matrix(0.10614,0,0,0.08700,584.956,101.313)" font-size="100" fill="#262626" stroke="#262626" stroke-width="2.07">20</text>
<text transform="matrix(0.10614,0,0,0.08700,631.306,101.313)" font-size="100" fill="#262626" stroke="#262626" stroke-width="2.07">25</text>
<text transform="matrix(0.10614,0,0,0.08700,677.709,101.313)" font-size="100" fill="#262626" stroke="#262626" stroke-width="2.07">30</text>
<text transform="matrix(0.10614,0,0,0.08700,411.023,205.813)" font-size="100" fill="#262626" stroke="#262626" stroke-width="2.07">0.0</text>
<text transform="matrix(0.10614,0,0,0.08700,449.076,205.813)" font-size="100" fill="#262626" stroke="#262626" stroke-width="2.07">0.1</text>
<text transform="matrix(0.10614,0,0,0.08700,487.076,205.813)" font-size="100" fill="#262626" stroke="#262626" stroke-width="2.07">0.2</text>
<text transform="matrix(0.10614,0,0,0.08700,525.023,205.813)" font-size="100" fill="#262626" stroke="#262626" stroke-width="2.07">0.3</text>
<text transform="matrix(0.10614,0,0,0.08700,562.970,205.813)" font-size="100" fill="#262626" stroke="#262626" stroke-width="2.07">0.4</text>
<text transform="matrix(0.10614,0,0,0.08700,601.023,205.813)" font-size="100" fill="#262626" stroke="#262626" stroke-width="2.07">0.5</text>
<text transform="matrix(0.10614,0,0,0.08700,639.023,205.813)" font-size="100" fill="#262626" stroke="#262626" stroke-width="2.07">0.6</text>
<text transform="matrix(0.10614,0,0,0.08700,677.076,205.813)" font-size="100" fill="#262626" stroke="#262626" stroke-width="2.07">0.7</text>
<text transform="matrix(0.10614,0,0,0.08700,415.428,310.913)" font-size="100" fill="#262626" stroke="#262626" stroke-width="2.07">0</text>
<text transform="matrix(0.10614,0,0,0.08700,458.778,311.000)" font-size="100" fill="#262626" stroke="#262626" stroke-width="2.07">2</text>
<text transform="matrix(0.10614,0,0,0.08700,502.181,311.087)" font-size="100" fill="#262626" stroke="#262626" stroke-width="2.07">4</text>
<text transform="matrix(0.10614,0,0,0.08700,545.478,310.913)" font-size="100" fill="#262626" stroke="#262626" stroke-width="2.07">6</text>
<text transform="matrix(0.10614,0,0,0.08700,588.881,310.913)" font-size="100" fill="#262626" stroke="#262626" stroke-width="2.07">8</text>
<text transform="matrix(0.10614,0,0,0.08700,629.047,310.913)" font-size="100" fill="#262626" stroke="#262626" stroke-width="2.07">10</text>
<text transform="matrix(0.10614,0,0,0.08700,672.450,311.000)" font-size="100" fill="#262626" stroke="#262626" stroke-width="2.07">12</text>
<text transform="matrix(0.10614,0,0,0.08700,377.127,9.801)" font-size="100" fill="#262626" stroke="#262626" stroke-width="2.07">20.0</text>
<text transform="matrix(0.10614,0,0,0.08700,377.233,31.458)" font-size="100" fill="#262626" stroke="#262626" stroke-width="2.07">17.5</text>
<text transform="matrix(0.10614,0,0,0.08700,377.127,53.301)" font-size="100" fill="#262626" stroke="#262626" stroke-width="2.07">15.0</text>
<text transform="matrix(0.10614,0,0,0.08700,377.233,75.101)" font-size="100" fill="#262626" stroke="#262626" stroke-width="2.07">12.5</text>
<text transform="matrix(0.10614,0,0,0.08700,382.777,115.145)" font-size="100" fill="#262626" stroke="#262626" stroke-width="2.07">1.2</text>
<text transform="matrix(0.10614,0,0,0.08700,382.671,133.552)" font-size="100" fill="#262626" stroke="#262626" stroke-width="2.07">1.0</text>
<text transform="matrix(0.10614,0,0,0.08700,382.671,152.001)" font-size="100" fill="#262626" stroke="#262626" stroke-width="2.07">0.8</text>
<text transform="matrix(0.10614,0,0,0.08700,382.671,170.451)" font-size="100" fill="#262626" stroke="#262626" stroke-width="2.07">0.6</text>
<text transform="matrix(0.10614,0,0,0.08700,382.565,188.901)" font-size="100" fill="#262626" stroke="#262626" stroke-width="2.07">0.4</text>
<text transform="matrix(0.10614,0,0,0.08700,390.587,235.901)" font-size="100" fill="#262626" stroke="#262626" stroke-width="2.07">3</text>
<text transform="matrix(0.10614,0,0,0.08700,390.587,261.145)" font-size="100" fill="#262626" stroke="#262626" stroke-width="2.07">2</text>
<text transform="matrix(0.10614,0,0,0.08700,390.587,286.302)" font-size="100" fill="#262626" stroke="#262626" stroke-width="2.07">1</text>
</g>
</svg>
</body></html>
